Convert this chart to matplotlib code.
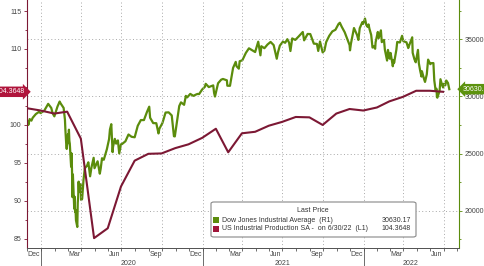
import matplotlib
matplotlib.use("Agg")
import matplotlib.pyplot as plt
import matplotlib.dates as mdates
import matplotlib.transforms as mtransforms
from matplotlib.patches import FancyBboxPatch, Rectangle
import pandas as pd

plt.rcParams['font.family'] = ['Liberation Sans', 'DejaVu Sans']

# US Industrial Production SA (L1), monthly, month end
ip_dates = pd.date_range("2019-11-30", "2022-06-30", freq="ME")
ip_values = [102.2, 101.9, 101.5, 101.75, 98.2, 85.1, 86.4, 91.9, 95.3, 96.2,
             96.25, 96.95, 97.45, 98.3, 99.5, 96.4, 98.9, 99.1, 99.9, 100.4,
             101.05, 101.0, 100.0, 101.5, 102.1, 101.9, 102.3, 103.1, 103.7,
             104.5, 104.5, 104.3648]

# Dow Jones Industrial Average (R1)
dow = [
    ("2019-12-02", 27783), ("2019-12-03", 27503), ("2019-12-06", 28015), ("2019-12-10", 27881),
    ("2019-12-13", 28135), ("2019-12-20", 28455), ("2019-12-27", 28645), ("2019-12-31", 28538),
    ("2020-01-03", 28634), ("2020-01-08", 28745), ("2020-01-17", 29348), ("2020-01-24", 28990),
    ("2020-01-27", 28536), ("2020-01-31", 28256), ("2020-02-07", 29103), ("2020-02-12", 29551),
    ("2020-02-14", 29398), ("2020-02-21", 28992), ("2020-02-24", 27961), ("2020-02-25", 27081),
    ("2020-02-27", 25766), ("2020-02-28", 25409), ("2020-03-02", 26703), ("2020-03-03", 25917),
    ("2020-03-04", 27091), ("2020-03-05", 26121), ("2020-03-06", 25865), ("2020-03-09", 23851),
    ("2020-03-10", 25018), ("2020-03-11", 23553), ("2020-03-12", 21200), ("2020-03-13", 23186),
    ("2020-03-16", 20189), ("2020-03-17", 21237), ("2020-03-18", 19899), ("2020-03-19", 20087),
    ("2020-03-20", 19174), ("2020-03-23", 18592), ("2020-03-24", 20705), ("2020-03-25", 21200),
    ("2020-03-26", 22552), ("2020-03-27", 21637), ("2020-03-30", 22327), ("2020-03-31", 21917),
    ("2020-04-01", 20944), ("2020-04-03", 21053), ("2020-04-06", 22680), ("2020-04-09", 23719),
    ("2020-04-14", 23949), ("2020-04-17", 24242), ("2020-04-21", 23019), ("2020-04-24", 23775),
    ("2020-04-29", 24634), ("2020-05-01", 23724), ("2020-05-08", 24331), ("2020-05-13", 23248),
    ("2020-05-15", 23685), ("2020-05-18", 24597), ("2020-05-22", 24465), ("2020-05-26", 24995),
    ("2020-05-29", 25383), ("2020-06-03", 26270), ("2020-06-05", 27111), ("2020-06-08", 27572),
    ("2020-06-11", 25128), ("2020-06-12", 25606), ("2020-06-16", 26290), ("2020-06-19", 25871),
    ("2020-06-23", 26156), ("2020-06-26", 25016), ("2020-06-30", 25813), ("2020-07-02", 25827),
    ("2020-07-10", 26075), ("2020-07-17", 26672), ("2020-07-24", 26470), ("2020-07-31", 26428),
    ("2020-08-07", 27433), ("2020-08-14", 27931), ("2020-08-21", 27930), ("2020-08-28", 28654),
    ("2020-09-02", 29100), ("2020-09-04", 28133), ("2020-09-11", 27666), ("2020-09-18", 27657),
    ("2020-09-23", 26763), ("2020-09-25", 27174), ("2020-10-02", 27682), ("2020-10-09", 28587),
    ("2020-10-16", 28606), ("2020-10-23", 28336), ("2020-10-28", 26520), ("2020-10-30", 26502),
    ("2020-11-06", 28323), ("2020-11-09", 29158), ("2020-11-13", 29480), ("2020-11-20", 29263),
    ("2020-11-24", 30046), ("2020-11-27", 29910), ("2020-12-04", 30218), ("2020-12-11", 30046),
    ("2020-12-18", 30179), ("2020-12-21", 30216), ("2020-12-24", 30200), ("2020-12-31", 30606),
    ("2021-01-06", 30829), ("2021-01-08", 31098), ("2021-01-15", 30814), ("2021-01-25", 30960),
    ("2021-01-27", 30303), ("2021-01-29", 29983), ("2021-02-05", 31148), ("2021-02-12", 31458),
    ("2021-02-16", 31523), ("2021-02-25", 31402), ("2021-02-26", 30932), ("2021-03-04", 30924),
    ("2021-03-11", 32485), ("2021-03-17", 33015), ("2021-03-19", 32628), ("2021-03-24", 32420),
    ("2021-03-26", 33073), ("2021-04-01", 33153), ("2021-04-09", 33801), ("2021-04-16", 34200),
    ("2021-04-23", 34043), ("2021-04-30", 33875), ("2021-05-07", 34778), ("2021-05-12", 33588),
    ("2021-05-14", 34382), ("2021-05-21", 34208), ("2021-05-28", 34529), ("2021-06-04", 34756),
    ("2021-06-11", 34480), ("2021-06-18", 33290), ("2021-06-21", 33877), ("2021-06-25", 34433),
    ("2021-07-02", 34786), ("2021-07-07", 34681), ("2021-07-12", 34996), ("2021-07-16", 34687),
    ("2021-07-19", 33962), ("2021-07-23", 35062), ("2021-07-30", 34935), ("2021-08-06", 35209),
    ("2021-08-16", 35625), ("2021-08-19", 34894), ("2021-08-27", 35456), ("2021-09-02", 35444),
    ("2021-09-10", 34608), ("2021-09-17", 34584), ("2021-09-20", 33970), ("2021-09-24", 34798),
    ("2021-09-30", 33844), ("2021-10-04", 34002), ("2021-10-08", 34746), ("2021-10-15", 35295),
    ("2021-10-22", 35677), ("2021-10-29", 35820), ("2021-11-05", 36328), ("2021-11-08", 36432),
    ("2021-11-12", 36100), ("2021-11-19", 35602), ("2021-11-26", 34899), ("2021-11-30", 34484),
    ("2021-12-01", 34022), ("2021-12-03", 34580), ("2021-12-10", 35971), ("2021-12-17", 35365),
    ("2021-12-20", 34932), ("2021-12-23", 35950), ("2021-12-29", 36488), ("2021-12-31", 36338),
    ("2022-01-04", 36800), ("2022-01-07", 36232), ("2022-01-10", 36068), ("2022-01-12", 36290),
    ("2022-01-14", 35912), ("2022-01-18", 35368), ("2022-01-21", 34265), ("2022-01-24", 34364),
    ("2022-01-27", 34160), ("2022-01-28", 34725), ("2022-02-02", 35629), ("2022-02-04", 35089),
    ("2022-02-09", 35768), ("2022-02-11", 34739), ("2022-02-16", 34934), ("2022-02-18", 34079),
    ("2022-02-23", 33131), ("2022-02-25", 34059), ("2022-03-01", 33294), ("2022-03-03", 33795),
    ("2022-03-08", 32633), ("2022-03-10", 33174), ("2022-03-11", 32944), ("2022-03-16", 34063),
    ("2022-03-18", 34755), ("2022-03-24", 34708), ("2022-03-29", 35294), ("2022-04-01", 34818),
    ("2022-04-08", 34722), ("2022-04-12", 34220), ("2022-04-14", 34451), ("2022-04-21", 35160),
    ("2022-04-22", 33811), ("2022-04-26", 33240), ("2022-04-29", 32977), ("2022-05-04", 34061),
    ("2022-05-06", 32899), ("2022-05-09", 32246), ("2022-05-12", 31730), ("2022-05-13", 32197),
    ("2022-05-18", 31490), ("2022-05-20", 31262), ("2022-05-24", 31929), ("2022-05-27", 33213),
    ("2022-06-01", 32813), ("2022-06-03", 32900), ("2022-06-08", 32910), ("2022-06-10", 31393),
    ("2022-06-13", 30517), ("2022-06-15", 30668), ("2022-06-16", 29927), ("2022-06-17", 29888),
    ("2022-06-22", 30483), ("2022-06-24", 31500), ("2022-06-28", 30947), ("2022-06-30", 30775),
    ("2022-07-01", 31097), ("2022-07-05", 30967), ("2022-07-07", 31385), ("2022-07-08", 31338),
    ("2022-07-11", 31173), ("2022-07-12", 30981), ("2022-07-13", 30773), ("2022-07-14", 30630.17),
]
dow_dates = pd.to_datetime([d for d, v in dow])
dow_values = [v for d, v in dow]

left_ticks = [85, 90, 95, 100, 105, 110, 115]
right_ticks = [20000, 25000, 30000, 35000]
month_labels = ["Dec", "Mar", "Jun", "Sep", "Dec", "Mar", "Jun", "Sep", "Dec", "Mar", "Jun"]
month_label_dates = pd.to_datetime(["2019-12-16", "2020-03-16", "2020-06-16", "2020-09-16",
                                    "2020-12-16", "2021-03-16", "2021-06-16", "2021-09-16",
                                    "2021-12-16", "2022-03-16", "2022-06-16"])
year_labels = ["2020", "2021", "2022"]
year_label_dates = pd.to_datetime(["2020-07-18", "2021-07-02", "2022-04-18"])
year_starts = pd.to_datetime(["2020-01-01", "2021-01-01", "2022-01-01"])

GREEN = "#5b8c0c"
RED = "#7c1834"
GRID = "#a8a8a8"
TXT = "#444444"

fig = plt.figure(figsize=(4.85, 2.66), dpi=100)
ax = fig.add_axes([27 / 485, 18 / 266, 432 / 485, 248 / 266])
ax2 = ax.twinx()

ax.plot(ip_dates, ip_values, color=RED, lw=1.5, zorder=4)
ax2.plot(dow_dates, dow_values, color=GREEN, lw=1.6, zorder=3)
ax.set_zorder(ax2.get_zorder() + 1)
ax.patch.set_visible(False)

ax.set_xlim(pd.Timestamp("2019-11-30"), pd.Timestamp("2022-08-05"))
ax.set_ylim(83.8, 116.45)
ax2.set_ylim(16755, 38420)

# left axis (105 sits under the last-value tag)
ax.set_yticks(left_ticks)
ax.set_yticklabels(["" if t == 105 else str(t) for t in left_ticks])
ax.set_yticks([87.5, 92.5, 97.5, 102.5, 107.5, 112.5], minor=True)
ax.tick_params(axis='y', which='both', direction='out', length=2.5, width=0.6,
               color=RED, labelsize=5, labelcolor=TXT, pad=1.5)
ax.tick_params(axis='y', which='minor', length=1.5)
ax.spines['left'].set_color(RED)
ax.spines['left'].set_linewidth(0.8)

# right axis
ax2.set_yticks(right_ticks)
ax2.set_yticks([17500, 22500, 27500, 32500, 37500], minor=True)
ax2.tick_params(axis='y', which='both', direction='out', length=2.5, width=0.6,
                color=GREEN, labelsize=5, labelcolor=TXT, pad=1.5)
ax2.tick_params(axis='y', which='minor', length=1.5)
ax2.spines['right'].set_color(GREEN)
ax2.spines['right'].set_linewidth(0.8)
ax2.grid(axis='y', color=GRID, lw=0.7, ls=(0, (1, 2.5)))

for a in (ax, ax2):
    a.spines['top'].set_visible(False)
    a.spines['bottom'].set_color("#555555")
    a.spines['bottom'].set_linewidth(0.7)
ax2.spines['left'].set_visible(False)
ax.spines['right'].set_visible(False)

# x axis
ax.xaxis.set_major_locator(mdates.MonthLocator(bymonth=[1, 4, 7, 10]))
ax.xaxis.set_minor_locator(mdates.MonthLocator())
ax.xaxis.set_major_formatter(plt.NullFormatter())
ax.tick_params(axis='x', which='both', direction='out', length=2, width=0.6, color="#555555")
ax.grid(axis='x', color=GRID, lw=0.7, ls=(0, (1, 2.5)))

trans = mtransforms.blended_transform_factory(ax.transData, ax.transAxes)
for d, lab in zip(month_label_dates, month_labels):
    ax.text(d, -0.028, lab, transform=trans, ha='center', va='center', fontsize=5, color=TXT)
for d, lab in zip(year_label_dates, year_labels):
    ax.text(d, -0.062, lab, transform=trans, ha='center', va='center', fontsize=5, color=TXT)
for d in year_starts:
    ax.plot([d, d], [0, -0.08], transform=trans, color="#555555", lw=0.6, clip_on=False)

# last value tags
ftrans_red = mtransforms.blended_transform_factory(fig.transFigure, ax.transData)
ax.text(25 / 485, ip_values[-1], f"{ip_values[-1]:.4f}", transform=ftrans_red, ha='right',
        va='center', fontsize=5, color='white', zorder=10,
        bbox=dict(boxstyle='rarrow,pad=0.25', fc="#b0153c", ec='none'))
ftrans_grn = mtransforms.blended_transform_factory(fig.transFigure, ax2.transData)
ax2.text(463 / 485, dow_values[-1], f"{dow_values[-1]:.2f}", transform=ftrans_grn, ha='left',
         va='center', fontsize=5, color='white', zorder=10, clip_on=False,
         bbox=dict(boxstyle='larrow,pad=0.25', fc="#5c920e", ec='none'))

# legend box
H = 266.0
box = FancyBboxPatch((211 / 485, 1 - 237 / H), 205 / 485, 35 / H, transform=fig.transFigure,
                     boxstyle='round,pad=0,rounding_size=0.006', fc='white', ec='#888888', lw=0.8,
                     zorder=20)
fig.add_artist(box)
fig.text(313 / 485, 1 - 211 / H, "Last Price", ha='center', va='center', fontsize=5,
         color='#333333', zorder=21)
rows = [("Dow Jones Industrial Average  (R1)", f"{dow_values[-1]:.2f}", GREEN, 220),
        ("US Industrial Production SA -  on 6/30/22  (L1)", f"{ip_values[-1]:.4f}", "#a0163a", 229)]
for name, val, col, yy in rows:
    fig.add_artist(Rectangle((213 / 485, 1 - (yy + 3) / H), 6 / 485, 6 / H, transform=fig.transFigure,
                             fc=col, ec='none', zorder=21))
    fig.text(222 / 485, 1 - yy / H, name, ha='left', va='center', fontsize=5, color='#333333', zorder=21)
    fig.text(411 / 485, 1 - yy / H, val, ha='right', va='center', fontsize=5, color='#333333', zorder=21)

fig.savefig("out.png", dpi=100)
